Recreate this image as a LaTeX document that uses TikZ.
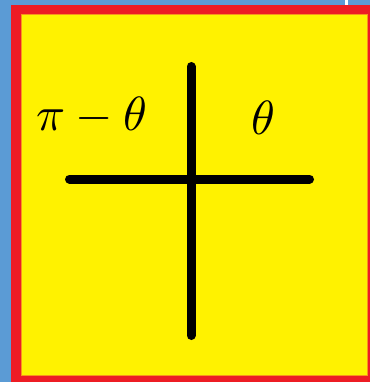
\documentclass[tikz,border=0pt]{standalone}
\definecolor{bgblue}{HTML}{5B9BD5}
\definecolor{bordred}{HTML}{ED1C24}
\definecolor{edgeorange}{HTML}{F7941D}
\definecolor{fillyellow}{HTML}{FFF200}
\begin{document}
\begin{tikzpicture}[x=1pt,y=-1pt,
  axis/.style={line width=9pt,line cap=round,black},
  lbl/.style={scale=4.8,inner sep=0pt}]
\useasboundingbox (0,0) rectangle (370,382);
\fill[bgblue] (0,0) rectangle (370,382);
\fill[white] (345,0) rectangle (347.5,5);
\fill[bordred] (11,5) rectangle (370,382);
\fill[fillyellow,draw=edgeorange,line width=1pt] (21,14.5) rectangle (367.5,375);
\coordinate (vt) at (191,66.5);
\coordinate (vb) at (191,335.5);
\coordinate (hl) at (69.5,179);
\coordinate (hr) at (309.5,179);
\draw[axis] (vt) -- (vb);
\draw[axis] (hl) -- (hr);
\node[lbl] (left) at (92,116) {$\pi-\theta$};
\node[lbl] (right) at (263,118) {$\theta$};
\end{tikzpicture}
\end{document}
